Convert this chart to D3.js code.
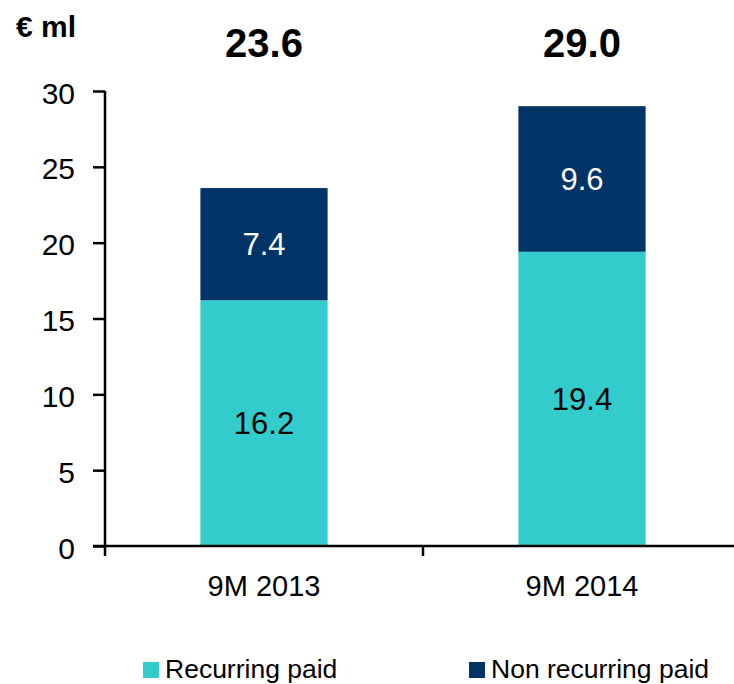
<!DOCTYPE html>
<html><head><meta charset="utf-8">
<script src="https://cdn.jsdelivr.net/npm/d3@7"></script>
<style>body{margin:0;background:#fff}svg{display:block;font-family:"Liberation Sans",Arial,sans-serif}</style>
</head><body>
<svg id="c" width="734" height="684"></svg>
<script>
const categories = ["9M 2013", "9M 2014"];
const recurring = [16.2, 19.4];
const nonRecurring = [7.4, 9.6];
const totals = ["23.6", "29.0"];
const seriesNames = ["Recurring paid", "Non recurring paid"];
const yTicks = [0, 5, 10, 15, 20, 25, 30];
const colors = ["#33CCCC", "#003366"];

const svg = d3.select("#c");
const x = d3.scaleBand().domain(categories).range([105, 741]).paddingInner(0).paddingOuter(0);
const y = d3.scaleLinear().domain([0, 30]).range([546, 91]);
const bw = x.bandwidth() * 0.4;

// bars
const stackData = categories.map((c, i) => ({cat: c, r: recurring[i], n: nonRecurring[i]}));
const stack = d3.stack().keys(["r", "n"])(stackData);
stack.forEach((layer, li) => {
  svg.selectAll(null).data(layer).enter().append("rect")
    .attr("x", d => x(d.data.cat) + (x.bandwidth() - bw) / 2)
    .attr("y", d => y(d[1]))
    .attr("width", bw)
    .attr("height", d => y(d[0]) - y(d[1]))
    .attr("fill", colors[li]);
  svg.selectAll(null).data(layer).enter().append("text")
    .attr("x", d => x(d.data.cat) + x.bandwidth() / 2)
    .attr("y", d => (y(d[0]) + y(d[1])) / 2 + 11)
    .attr("text-anchor", "middle")
    .attr("font-size", 31)
    .attr("fill", li === 0 ? "#000" : "#fff")
    .text(d => (li === 0 ? d.data.r : d.data.n).toFixed(1));
});

// y axis
const yAxis = svg.append("g").attr("transform", "translate(105,0)")
  .call(d3.axisLeft(y).tickValues(yTicks).tickSize(12).tickPadding(18));
yAxis.selectAll("text").attr("font-size", 30).attr("fill", "#000").attr("font-family", "Liberation Sans, Arial, sans-serif").attr("dy", "0.4em");
yAxis.selectAll("line").attr("stroke", "#000").attr("stroke-width", 2.5);
yAxis.select(".domain").attr("stroke", "#000").attr("stroke-width", 2.5).attr("d", "M0,91V546");

// x axis
const xg = svg.append("g").attr("transform", "translate(0,546)");
xg.append("line").attr("x1", 93).attr("x2", 741).attr("y1", 0).attr("y2", 0).attr("stroke", "#000").attr("stroke-width", 2.5);
const bounds = [x.range()[0], ...categories.map(c => x(c) + x.bandwidth())];
xg.selectAll(null).data(bounds).enter().append("line")
  .attr("x1", d => d).attr("x2", d => d).attr("y1", 0).attr("y2", 10)
  .attr("stroke", "#000").attr("stroke-width", 2.5);
xg.selectAll(null).data(categories).enter().append("text")
  .attr("x", d => x(d) + x.bandwidth() / 2).attr("y", 50)
  .attr("text-anchor", "middle").attr("font-size", 29).text(d => d);

// totals
svg.selectAll(null).data(categories).enter().append("text")
  .attr("x", d => x(d) + x.bandwidth() / 2).attr("y", 57)
  .attr("text-anchor", "middle").attr("font-size", 40).attr("font-weight", "bold")
  .text((d, i) => totals[i]);

// unit
svg.append("text").attr("x", 16).attr("y", 37).attr("font-size", 30).attr("font-weight", "bold").text("€ ml");

// legend
const legX = [143, 469];
seriesNames.forEach((s, i) => {
  svg.append("rect").attr("x", legX[i]).attr("y", 662).attr("width", 16).attr("height", 16).attr("fill", colors[i]);
  svg.append("text").attr("x", legX[i] + 22).attr("y", 678).attr("font-size", 26.5).text(s);
});
</script>
</body></html>
